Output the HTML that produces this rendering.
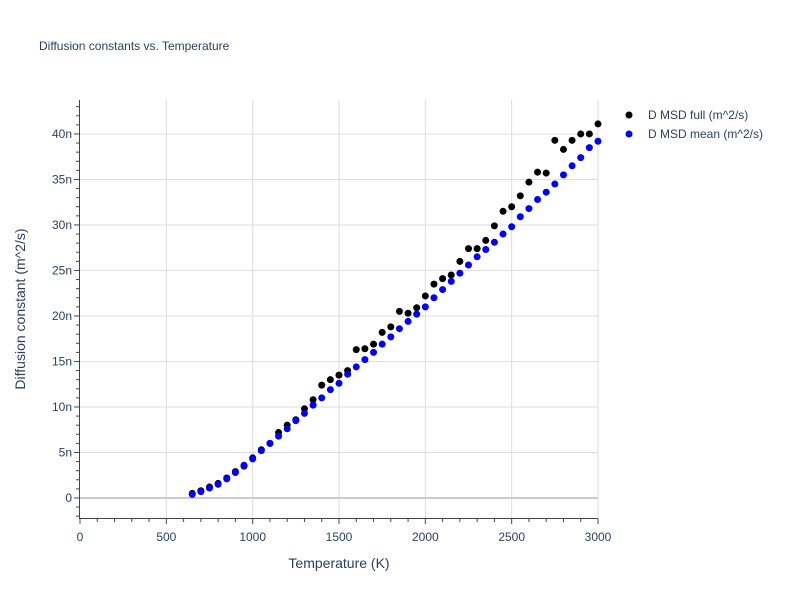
<!DOCTYPE html>
<html><head><meta charset="utf-8"><style>
body{margin:0;background:#fff;font-family:"Liberation Sans",sans-serif;}
svg text{font-family:"Liberation Sans",sans-serif;fill:#2a3f5f;}
</style></head><body>
<svg id="c" width="800" height="600">
<text x="39" y="50" font-size="12">Diffusion constants vs. Temperature</text>
<g id="grid"></g><g id="axes"></g><g id="pts"></g>
<text x="339" y="568" font-size="14" text-anchor="middle">Temperature (K)</text>
<text transform="translate(25,309) rotate(-90)" font-size="14" text-anchor="middle">Diffusion constant (m^2/s)</text>
<g>
<circle cx="629" cy="115" r="3.5" fill="#000"/>
<text x="648" y="119" font-size="12">D MSD full (m^2/s)</text>
<circle cx="629" cy="134" r="3.5" fill="#0000ff"/>
<text x="648" y="138" font-size="12">D MSD mean (m^2/s)</text>
</g>
</svg>
<script>
const temps=[650,700,750,800,850,900,950,1000,1050,1100,1150,1200,1250,1300,1350,1400,1450,1500,1550,1600,1650,1700,1750,1800,1850,1900,1950,2000,2050,2100,2150,2200,2250,2300,2350,2400,2450,2500,2550,2600,2650,2700,2750,2800,2850,2900,2950,3000];
const dFull=[0.5,0.8,1.2,1.6,2.2,2.9,3.5,4.4,5.3,6.0,7.2,8.0,8.6,9.8,10.8,12.4,13.0,13.5,14.0,16.3,16.4,16.9,18.2,18.8,20.5,20.3,20.9,22.2,23.5,24.1,24.5,26.0,27.4,27.4,28.3,29.9,31.5,32.0,33.2,34.7,35.8,35.7,39.3,38.3,39.3,40.0,40.0,41.1];
const dMean=[0.4,0.7,1.1,1.5,2.1,2.8,3.6,4.3,5.2,6.0,6.8,7.6,8.5,9.3,10.2,11.0,11.9,12.6,13.6,14.4,15.2,16.0,16.9,17.7,18.6,19.4,20.2,21.0,22.0,22.9,23.8,24.7,25.6,26.5,27.3,28.1,29.0,29.8,30.9,31.8,32.8,33.6,34.5,35.5,36.5,37.4,38.5,39.2];
const xTicks=[0,500,1000,1500,2000,2500,3000];
const yTicks=[0,5,10,15,20,25,30,35,40];
const yTickLabels=["0","5n","10n","15n","20n","25n","30n","35n","40n"];
const NS="http://www.w3.org/2000/svg";
const X0=80,X1=598,Y0=100,Y1=518,xmin=0,xmax=3000,ymin=-2.2,ymax=43.73;
const sx=v=>X0+(v-xmin)/(xmax-xmin)*(X1-X0);
const sy=v=>Y1-(v-ymin)/(ymax-ymin)*(Y1-Y0);
function mk(t,a,p){const e=document.createElementNS(NS,t);for(const k in a)e.setAttribute(k,a[k]);p.appendChild(e);return e;}
const g=document.getElementById('grid'),ax=document.getElementById('axes'),pts=document.getElementById('pts');
xTicks.forEach(v=>{if(v>0){const l=mk('line',{x1:sx(v),x2:sx(v),y1:Y0,y2:Y1,stroke:'#ddd','stroke-width':1},g);

}
const t=mk('text',{x:sx(v),y:541,'font-size':12,'text-anchor':'middle'},ax);t.textContent=v;


mk('line',{x1:sx(v),x2:sx(v),y1:Y1+1,y2:Y1+6,stroke:'#444'},ax);});
for(let v=100;v<3000;v+=100){if(v%500)mk('line',{x1:sx(v),x2:sx(v),y1:Y1+1,y2:Y1+4,stroke:'#444'},ax);}
yTicks.forEach((v,i)=>{const l=mk('line',{x1:X0,x2:X1,y1:sy(v),y2:sy(v),stroke:v==0?'#ccc':'#ddd','stroke-width':v==0?2:1},g);


const t=mk('text',{x:72,y:sy(v)+4,'font-size':12,'text-anchor':'end'},ax);t.textContent=yTickLabels[i];


mk('line',{x1:X0-6,x2:X0-1,y1:sy(v),y2:sy(v),stroke:'#444'},ax);});
for(let v=-2;v<=43;v++){if(v%5)mk('line',{x1:X0-4,x2:X0-1,y1:sy(v),y2:sy(v),stroke:'#444'},ax);}
mk('line',{x1:X0-0.5,x2:X0-0.5,y1:Y0,y2:Y1+1,stroke:'#444'},ax);
mk('line',{x1:X0-1,x2:X1,y1:Y1+0.5,y2:Y1+0.5,stroke:'#444'},ax);
temps.forEach((t,i)=>{const c=mk('circle',{cx:sx(t),cy:sy(dFull[i]),r:3.5,fill:'#000'},pts);

});
temps.forEach((t,i)=>{const c=mk('circle',{cx:sx(t),cy:sy(dMean[i]),r:3.5,fill:'#0000ff'},pts);

});
</script>
</body></html>
